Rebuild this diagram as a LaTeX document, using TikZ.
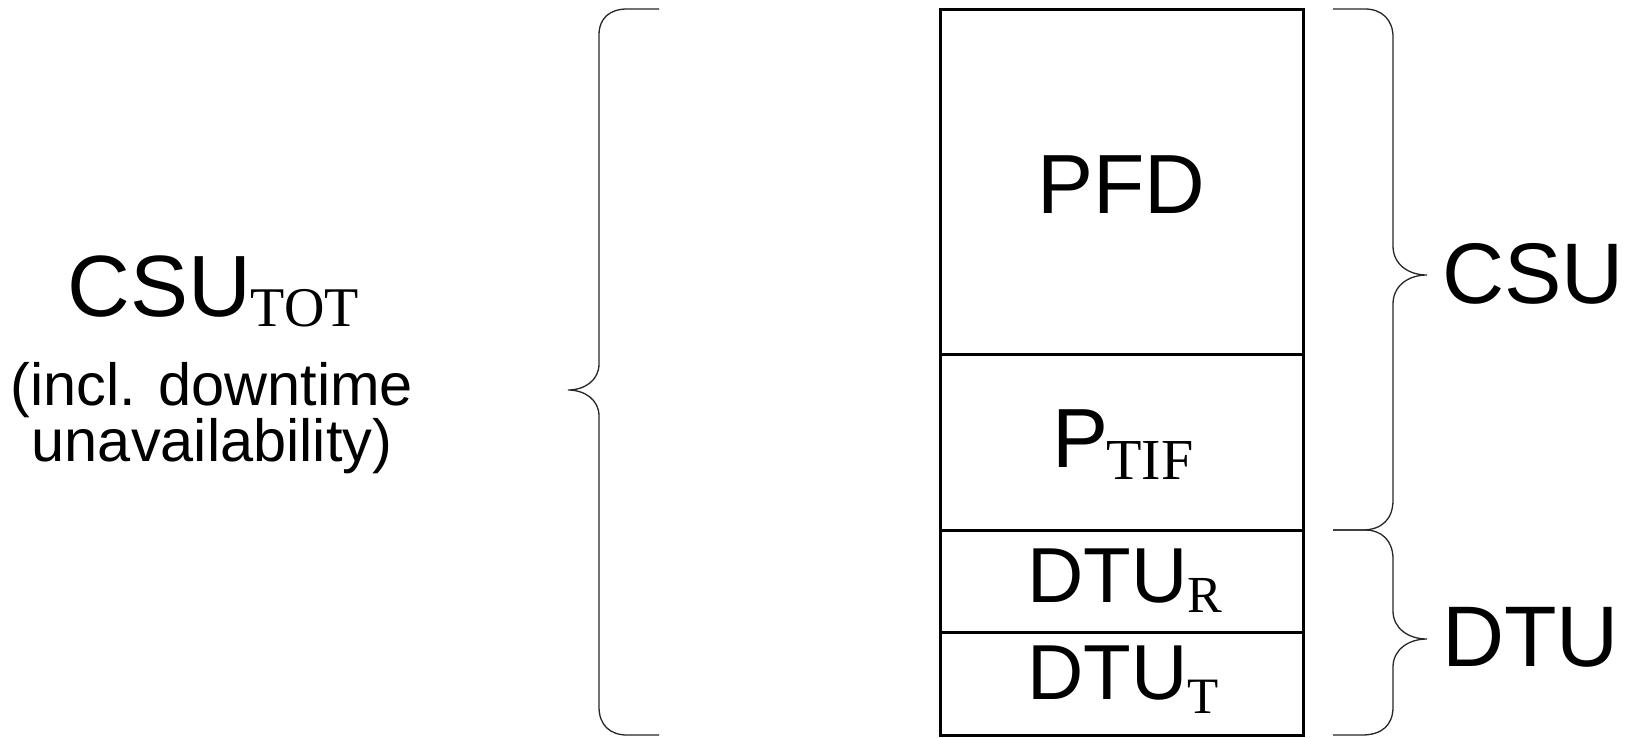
\documentclass[tikz,border=0pt]{standalone}
\usepackage{fontspec}
\setmainfont{Liberation Sans}
\newfontfamily\tnr{Liberation Serif}
\newcommand\subtxt[3]{\raisebox{-#2pt}{\fontsize{#1}{#1}\selectfont\tnr #3}}
\begin{document}
\begin{tikzpicture}[x=1pt,y=-1pt,
  cell/.style={draw,line width=3pt,minimum width=363pt,inner sep=0pt,outer sep=0pt},
  bigtxt/.style={inner sep=0pt,font=\fontsize{84}{90}\selectfont},
  dtutxt/.style={inner sep=0pt,font=\fontsize{78}{84}\selectfont},
  sidetxt/.style={inner sep=0pt,font=\fontsize{86}{90}\selectfont},
  lefttxt/.style={inner sep=0pt,font=\fontsize{87}{90}\selectfont},
  smalltxt/.style={inner sep=0pt,font=\fontsize{59.5}{66}\selectfont},
  bracel/.style={line width=1.3pt,color=black!85}]
\useasboundingbox (0,0) rectangle (1631,737);
% cells
\node[cell,minimum height=345pt] (pfd) at (1121.5,181.5) {};
\node[cell,minimum height=176pt] (tif) at (1121.5,442) {};
\node[cell,minimum height=102pt] (dtur) at (1121.5,581) {};
\node[cell,minimum height=103pt] (dtut) at (1121.5,683.5) {};
% cell texts
\node[bigtxt,anchor=base] (tpfd) at (1121.5,213) {PFD};
\node[bigtxt,anchor=base] (ttif) at (1123,467) {P\kern-2pt\subtxt{58}{12}{TIF}};
\node[dtutxt,anchor=base] (tdtur) at (1125,602) {DTU\subtxt{52}{10}{R}};
\node[dtutxt,anchor=base] (tdtut) at (1123,699) {DTU\subtxt{51}{14}{T}};
% side labels
\node[sidetxt,anchor=base west] (csu) at (1442,303) {CSU};
\node[sidetxt,anchor=base west] (dtu) at (1442,666) {DTU};
\node[lefttxt,anchor=base] (csutot) at (213,316) {CSU\subtxt{56}{10}{TOT}};
\node[smalltxt,anchor=base] (incl) at (212,405) {(incl. downtime};
\node[smalltxt,anchor=base] (unav) at (212,461) {unavailability)};
% left brace
\draw[bracel] (659,9) -- (627,9) .. controls (610,9) and (599,18) .. (599,35)
  -- (599,364) .. controls (599,380) and (585,390) .. (568,390)
  .. controls (585,390) and (599,400) .. (599,416)
  -- (599,707) .. controls (599,725) and (610,735) .. (627,735) -- (659,735);
% right CSU brace
\draw[bracel] (1333,9) -- (1365,9) .. controls (1382,9) and (1393,20) .. (1393,37)
  -- (1393,246) .. controls (1393,264) and (1408,275) .. (1427,275)
  .. controls (1408,275) and (1393,286) .. (1393,304)
  -- (1393,500) .. controls (1393,519) and (1382,530) .. (1362,530) -- (1333,530);
% right DTU brace
\draw[bracel] (1333,530) -- (1365,530) .. controls (1382,530) and (1393,541) .. (1393,559)
  -- (1393,611) .. controls (1393,628) and (1408,639) .. (1427,639)
  .. controls (1408,639) and (1393,650) .. (1393,667)
  -- (1393,707) .. controls (1393,725) and (1382,735) .. (1362,735) -- (1333,735);
\end{tikzpicture}
\end{document}
